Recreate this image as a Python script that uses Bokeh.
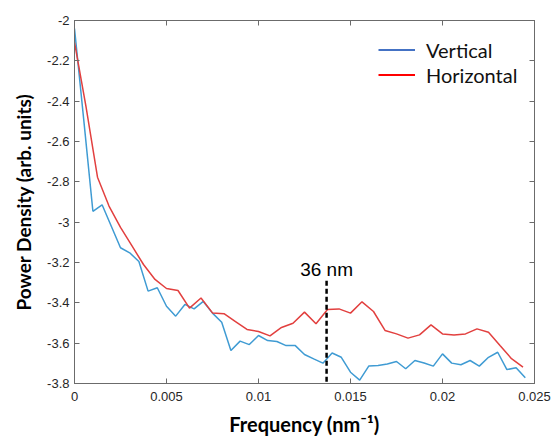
from bokeh.plotting import figure
from bokeh.models import LinearAxis, FixedTicker, Range1d, Legend, LegendItem, Label
from bokeh.embed import file_html
from bokeh.resources import INLINE

# ---- data ----
freq_vertical = [0.0, 0.0005, 0.001, 0.0015, 0.002, 0.0025, 0.003, 0.0035, 0.004, 0.0045,
                 0.005, 0.0055, 0.006, 0.0065, 0.007, 0.0075, 0.008, 0.0085, 0.009, 0.0095,
                 0.01, 0.0105, 0.011, 0.0115, 0.012, 0.0125, 0.013, 0.0135, 0.014, 0.0145,
                 0.015, 0.0155, 0.016, 0.0165, 0.017, 0.0175, 0.018, 0.0185, 0.019, 0.0195,
                 0.02, 0.0205, 0.021, 0.0215, 0.022, 0.0225, 0.023, 0.0235, 0.024, 0.0245]
vertical = [-2.04, -2.49, -2.946, -2.914, -3.02, -3.127, -3.152, -3.195, -3.342, -3.325,
            -3.417, -3.466, -3.408, -3.43, -3.393, -3.451, -3.496, -3.636, -3.59, -3.607,
            -3.562, -3.587, -3.592, -3.612, -3.612, -3.656, -3.678, -3.699, -3.649, -3.67,
            -3.744, -3.783, -3.713, -3.711, -3.703, -3.691, -3.727, -3.686, -3.698, -3.714,
            -3.653, -3.699, -3.707, -3.686, -3.714, -3.67, -3.645, -3.731, -3.722, -3.772]

freq_horizontal = [0.0, 0.000625, 0.00125, 0.001875, 0.0025, 0.003125, 0.00375, 0.004375,
                   0.005, 0.005625, 0.00625, 0.006875, 0.0075, 0.008125, 0.00875, 0.009375,
                   0.01, 0.010625, 0.01125, 0.011875, 0.0125, 0.013125, 0.01375, 0.014375,
                   0.015, 0.015625, 0.01625, 0.016875, 0.0175, 0.018125, 0.01875, 0.019375,
                   0.02, 0.020625, 0.02125, 0.021875, 0.0225, 0.023125, 0.02375, 0.024375]
horizontal = [-2.108, -2.427, -2.777, -2.92, -3.026, -3.118, -3.21, -3.284, -3.329, -3.339,
              -3.426, -3.376, -3.45, -3.454, -3.493, -3.532, -3.542, -3.564, -3.522, -3.501,
              -3.446, -3.504, -3.433, -3.43, -3.451, -3.395, -3.443, -3.537, -3.554, -3.575,
              -3.559, -3.509, -3.554, -3.56, -3.554, -3.529, -3.546, -3.612, -3.677, -3.719]

x_ticks = [0.0, 0.005, 0.01, 0.015, 0.02, 0.025]
x_tick_labels = ["0", "0.005", "0.01", "0.015", "0.02", "0.025"]
y_ticks = [-3.8, -3.6, -3.4, -3.2, -3.0, -2.8, -2.6, -2.4, -2.2, -2.0]
y_tick_labels = ["-3.8", "-3.6", "-3.4", "-3.2", "-3", "-2.8", "-2.6", "-2.4", "-2.2", "-2"]

marker_freq = 0.0137
marker_top = -3.29
marker_text = "36 nm"
marker_text_y = -3.235

x_title = "Frequency (nm\u207b\u00b9)"
y_title = "Power Density (arb. units)"

nan = float("nan")

# ---- figure ----
p = figure(width=551, height=438, output_backend="svg", toolbar_location=None,
           x_range=Range1d(0, 0.025), y_range=Range1d(-3.8, -2.0),
           min_border_left=74, min_border_right=17, min_border_top=20, min_border_bottom=55)
p.xgrid.visible = False
p.ygrid.visible = False
p.outline_line_color = "#6b6b6b"
p.outline_line_width = 1
p.background_fill_color = "white"
p.border_fill_color = "white"

blue = "#3f9bd3"
red = "#e2403f"

p.line(freq_vertical, vertical, line_color=blue, line_width=1.5)
p.line(freq_horizontal, horizontal, line_color=red, line_width=1.5)

p.segment(x0=[marker_freq], y0=[marker_top], x1=[marker_freq], y1=[y_ticks[0]],
          line_color="black", line_width=2.5, line_dash="5 3")

p.add_layout(Label(x=marker_freq, y=marker_text_y, text=marker_text, text_align="center",
                   text_baseline="alphabetic", text_font="Liberation Sans",
                   text_font_size="19px", text_color="black"))

# legend with separate (legend-only) renderers
lv = p.line([nan], [nan], line_color="#4472c4", line_width=2)
lh = p.line([nan], [nan], line_color="#ff0000", line_width=2)
legend = Legend(items=[LegendItem(label="Vertical", renderers=[lv]),
                       LegendItem(label="Horizontal", renderers=[lh])],
                location=(304, 296), orientation="vertical",
                glyph_width=37, glyph_height=25, label_height=25, label_standoff=11,
                padding=0, margin=0, spacing=0,
                border_line_color=None, background_fill_alpha=0,
                label_text_font="Lato", label_text_font_size="20px", label_text_color="#111111")
p.add_layout(legend, "center")

def style_axis(ax):
    ax.major_tick_in = 5
    ax.major_tick_out = 0
    ax.minor_tick_in = 0
    ax.minor_tick_out = 0
    ax.axis_line_color = "#6b6b6b"
    ax.major_tick_line_color = "#6b6b6b"
    ax.major_label_text_font = "Liberation Sans"
    ax.major_label_text_color = "#262626"
    ax.major_label_text_font_size = "13px"

# bottom
xa = p.xaxis[0]
xa.ticker = FixedTicker(ticks=x_ticks)
xa.major_label_overrides = dict(zip(x_ticks, x_tick_labels))
style_axis(xa)
xa.major_label_standoff = 8
xa.axis_label = x_title
xa.axis_label_text_font = "Lato"
xa.axis_label_text_font_style = "bold"
xa.axis_label_text_font_size = "20px"
xa.axis_label_text_color = "black"
xa.axis_label_standoff = 8

# left
ya = p.yaxis[0]
ya.ticker = FixedTicker(ticks=y_ticks)
ya.major_label_overrides = dict(zip(y_ticks, y_tick_labels))
style_axis(ya)
ya.major_label_standoff = 5
ya.axis_label = y_title
ya.axis_label_text_font = "Lato"
ya.axis_label_text_font_style = "bold"
ya.axis_label_text_font_size = "19px"
ya.axis_label_text_color = "black"
ya.axis_label_standoff = 9

# top & right mirror axes (ticks only)
top = LinearAxis(ticker=FixedTicker(ticks=x_ticks))
style_axis(top)
top.major_label_overrides = {t: "" for t in x_ticks}
top.major_label_standoff = 0
p.add_layout(top, "above")
right = LinearAxis(ticker=FixedTicker(ticks=y_ticks))
style_axis(right)
right.major_label_overrides = {t: "" for t in y_ticks}
right.major_label_standoff = 0
p.add_layout(right, "right")

open("out.html", "w").write(file_html(p, INLINE))
